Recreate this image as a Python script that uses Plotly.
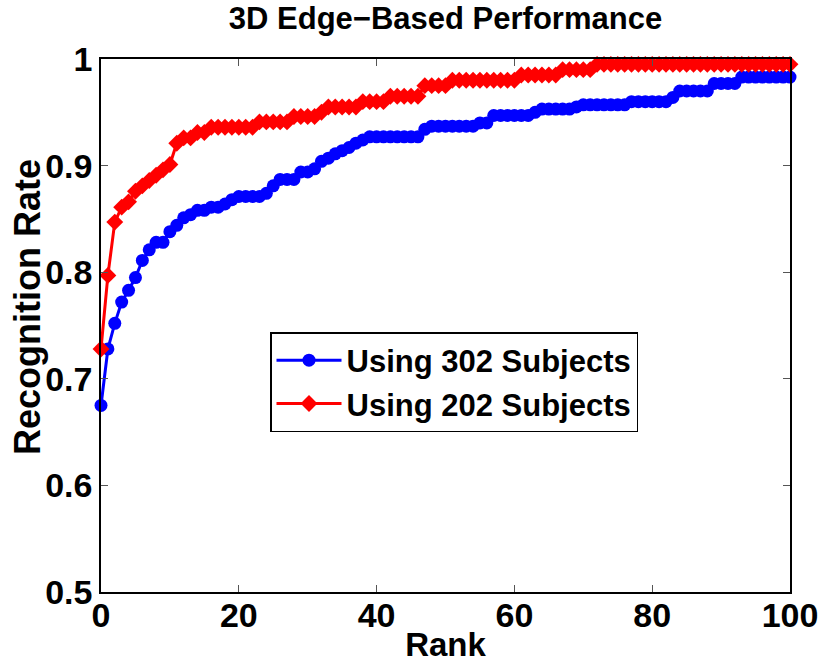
import plotly.graph_objects as go

# ---------------- data ----------------
rank = list(range(0, 101))

rate_302 = [
    0.675, 0.728, 0.752, 0.772, 0.783, 0.795, 0.811, 0.821, 0.828, 0.828,
    0.838, 0.844, 0.851, 0.854, 0.858, 0.858, 0.861, 0.861, 0.864, 0.868,
    0.871, 0.871, 0.871, 0.871, 0.874, 0.881, 0.887, 0.887, 0.887, 0.894,
    0.894, 0.897, 0.904, 0.907, 0.911, 0.914, 0.917, 0.921, 0.924, 0.927,
    0.927, 0.927, 0.927, 0.927, 0.927, 0.927, 0.927, 0.934, 0.937, 0.937,
    0.937, 0.937, 0.937, 0.937, 0.937, 0.940, 0.940, 0.947, 0.947, 0.947,
    0.947, 0.947, 0.947, 0.950, 0.953, 0.953, 0.953, 0.953, 0.953, 0.955,
    0.957, 0.957, 0.957, 0.957, 0.957, 0.957, 0.957, 0.960, 0.960, 0.960,
    0.960, 0.960, 0.960, 0.964, 0.970, 0.970, 0.970, 0.970, 0.970, 0.977,
    0.977, 0.977, 0.977, 0.983, 0.983, 0.983, 0.983, 0.983, 0.983, 0.983,
    0.983,
]

rate_202 = [
    0.728, 0.797, 0.847, 0.861, 0.866, 0.876, 0.881, 0.886, 0.891, 0.896,
    0.901, 0.921, 0.926, 0.926, 0.931, 0.931, 0.936, 0.936, 0.936, 0.936,
    0.936, 0.936, 0.936, 0.941, 0.941, 0.941, 0.941, 0.941, 0.946, 0.946,
    0.946, 0.946, 0.950, 0.955, 0.955, 0.955, 0.955, 0.955, 0.960, 0.960,
    0.960, 0.960, 0.965, 0.965, 0.965, 0.965, 0.965, 0.975, 0.975, 0.975,
    0.975, 0.980, 0.980, 0.980, 0.980, 0.980, 0.980, 0.980, 0.980, 0.980,
    0.980, 0.985, 0.985, 0.985, 0.985, 0.985, 0.985, 0.990, 0.990, 0.990,
    0.990, 0.990, 0.995, 0.995, 0.995, 0.995, 0.995, 0.995, 0.995, 0.995,
    0.995, 0.995, 0.995, 0.995, 0.995, 0.995, 0.995, 0.995, 0.995, 0.995,
    0.995, 0.995, 0.995, 0.995, 0.995, 0.995, 0.995, 0.995, 0.995, 0.995,
    0.995,
]

series_names = ["Using 302 Subjects", "Using 202 Subjects"]
x_ticks = [0, 20, 40, 60, 80, 100]
y_ticks = [0.5, 0.6, 0.7, 0.8, 0.9, 1.0]
y_tick_labels = ["0.5", "0.6", "0.7", "0.8", "0.9", "1"]

FONT = "Liberation Sans, Arial, Helvetica, sans-serif"

fig = go.Figure()
fig.add_trace(go.Scatter(
    x=rank, y=rate_302, name=series_names[0], mode="lines+markers",
    line=dict(color="rgb(0,0,255)", width=3),
    marker=dict(symbol="circle", size=13, color="rgb(0,0,255)"),
    cliponaxis=False,
))
fig.add_trace(go.Scatter(
    x=rank, y=rate_202, name=series_names[1], mode="lines+markers",
    line=dict(color="rgb(255,0,0)", width=3),
    marker=dict(symbol="diamond", size=13, color="rgb(255,0,0)"),
    cliponaxis=False,
))

axis_common = dict(
    showgrid=False, zeroline=False, automargin=False,
    showline=True, linecolor="black", linewidth=1.5, mirror="ticks",
    ticks="inside", ticklen=7, tickwidth=1, tickcolor="#555",
    tickfont=dict(family=FONT, size=34, color="black", weight="bold"),
)

fig.update_layout(
    width=819, height=666,
    margin=dict(l=101, r=29, t=59, b=74, autoexpand=False),
    paper_bgcolor="white", plot_bgcolor="white",
    title=dict(text="3D Edge\u2212Based Performance",
               font=dict(family=FONT, size=31, color="black", weight="bold"),
               x=0.5, xref="paper", xanchor="center",
               y=0.972, yanchor="middle", yref="container"),
    xaxis=dict(range=[0, 100], tickvals=x_ticks, ticklabelstandoff=-8,
               title=dict(text="Rank", standoff=0,
                          font=dict(family=FONT, size=33, color="black", weight="bold")),
               **axis_common),
    yaxis=dict(range=[0.5, 1.0], tickvals=y_ticks, ticktext=y_tick_labels,
               ticklabelstandoff=0,
               **axis_common),
    legend=dict(x=(270 - 101) / 689, y=(592 - 332) / 533, xanchor="left", yanchor="top",
                bgcolor="white", bordercolor="black", borderwidth=1.5,
                font=dict(family=FONT, size=31, color="black", weight="bold"),
                tracegroupgap=0, itemwidth=65),
    showlegend=True,
    annotations=[dict(text="Recognition Rate", textangle=-90,
                      xref="paper", yref="paper",
                      x=(27 - 101) / 689, y=(592 - 307) / 533,
                      xanchor="center", yanchor="middle", showarrow=False,
                      font=dict(family=FONT, size=36, color="black", weight="bold"))],
)

fig.write_html("out.html", config={"displayModeBar": False},
               post_script="document.body.style.margin='0';document.body.style.padding='0';")
